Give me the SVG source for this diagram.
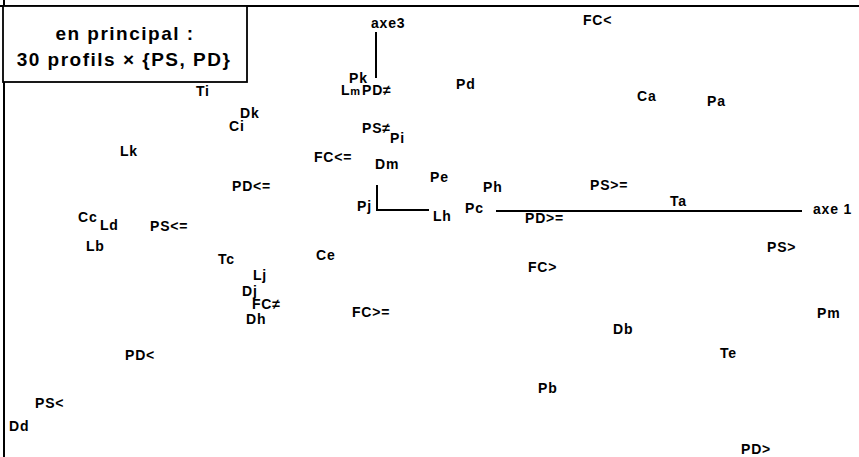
<svg xmlns="http://www.w3.org/2000/svg" width="859" height="457" viewBox="0 0 859 457">
<style>
.lb{font-family:"Liberation Sans",Arial,sans-serif;font-weight:bold;font-size:14px;fill:#000;letter-spacing:0.8px}
.ax{stroke:#000;stroke-width:2;fill:none}
.title{font-family:"Liberation Sans",Arial,sans-serif;font-weight:bold;font-size:19px;fill:#000;letter-spacing:1.5px;text-anchor:middle}
</style>
<rect width="859" height="457" fill="#fff"/>
<g id="frame">
<line x1="0" y1="6" x2="859" y2="6" class="ax"/>
<line x1="4" y1="0" x2="4" y2="457" class="ax"/>
</g>
<g id="legend">
<rect x="3" y="6" width="244" height="76" fill="#fff" stroke="#000" stroke-width="1.8"/>
<text class="title" x="125" y="40">en principal :</text>
<text class="title" x="124" y="66">30 profils × {PS, PD}</text>
</g>
<g id="connectors">
<line x1="376" y1="32" x2="376" y2="78" class="ax"/>
<line x1="496" y1="211" x2="802" y2="211" class="ax"/>
<line x1="377" y1="185" x2="377" y2="211" class="ax"/>
<line x1="377" y1="210" x2="429" y2="210" class="ax"/>
</g>
<g id="axe3"><text class="lb" x="371" y="28">axe3</text></g>
<g id="axe1"><text class="lb" x="813" y="214">axe 1</text></g>
<g id="Ti"><text class="lb" x="196" y="96">Ti</text></g>
<g id="Dk"><text class="lb" x="240" y="118">Dk</text></g>
<g id="Ci"><text class="lb" x="229" y="131">Ci</text></g>
<g id="Lk"><text class="lb" x="120" y="156">Lk</text></g>
<g id="FC_le"><text class="lb" x="314" y="162">FC&lt;=</text></g>
<g id="PD_le"><text class="lb" x="232" y="191">PD&lt;=</text></g>
<g id="Pk"><text class="lb" x="349" y="83">Pk</text></g>
<g id="Lm"><text class="lb" x="341" y="95">L<tspan font-size="11">m</tspan></text></g>
<g id="PD_ne"><text class="lb" x="362" y="95">PD≠</text></g>
<g id="Pd"><text class="lb" x="456" y="89">Pd</text></g>
<g id="PS_ne"><text class="lb" x="362" y="133">PS≠</text></g>
<g id="Pi"><text class="lb" x="390" y="143">Pi</text></g>
<g id="Dm"><text class="lb" x="375" y="169">Dm</text></g>
<g id="Pe"><text class="lb" x="430" y="182">Pe</text></g>
<g id="Ph"><text class="lb" x="483" y="192">Ph</text></g>
<g id="Pj"><text class="lb" x="357" y="211">Pj</text></g>
<g id="Lh"><text class="lb" x="433" y="221">Lh</text></g>
<g id="Pc"><text class="lb" x="465" y="213">Pc</text></g>
<g id="PS_ge"><text class="lb" x="590" y="190">PS&gt;=</text></g>
<g id="Ta"><text class="lb" x="670" y="206">Ta</text></g>
<g id="PD_ge"><text class="lb" x="525" y="223">PD&gt;=</text></g>
<g id="FC_lt"><text class="lb" x="583" y="25">FC&lt;</text></g>
<g id="Ca"><text class="lb" x="637" y="101">Ca</text></g>
<g id="Pa"><text class="lb" x="707" y="106">Pa</text></g>
<g id="PS_gt"><text class="lb" x="767" y="252">PS&gt;</text></g>
<g id="FC_gt"><text class="lb" x="528" y="272">FC&gt;</text></g>
<g id="Pm"><text class="lb" x="817" y="318">Pm</text></g>
<g id="Db"><text class="lb" x="613" y="334">Db</text></g>
<g id="Te"><text class="lb" x="720" y="358">Te</text></g>
<g id="Pb"><text class="lb" x="538" y="393">Pb</text></g>
<g id="PD_gt"><text class="lb" x="741" y="454">PD&gt;</text></g>
<g id="Cc"><text class="lb" x="78" y="222">Cc</text></g>
<g id="Ld"><text class="lb" x="100" y="230">Ld</text></g>
<g id="PS_le"><text class="lb" x="150" y="231">PS&lt;=</text></g>
<g id="Lb"><text class="lb" x="86" y="251">Lb</text></g>
<g id="Tc"><text class="lb" x="218" y="264">Tc</text></g>
<g id="Ce"><text class="lb" x="316" y="260">Ce</text></g>
<g id="Lj"><text class="lb" x="253" y="280">Lj</text></g>
<g id="Dj"><text class="lb" x="242" y="296">Dj</text></g>
<g id="FC_ne"><text class="lb" x="252" y="309">FC≠</text></g>
<g id="Dh"><text class="lb" x="246" y="324">Dh</text></g>
<g id="FC_ge"><text class="lb" x="352" y="317">FC&gt;=</text></g>
<g id="PD_lt"><text class="lb" x="125" y="360">PD&lt;</text></g>
<g id="PS_lt"><text class="lb" x="35" y="408">PS&lt;</text></g>
<g id="Dd"><text class="lb" x="9" y="431">Dd</text></g>
</svg>
